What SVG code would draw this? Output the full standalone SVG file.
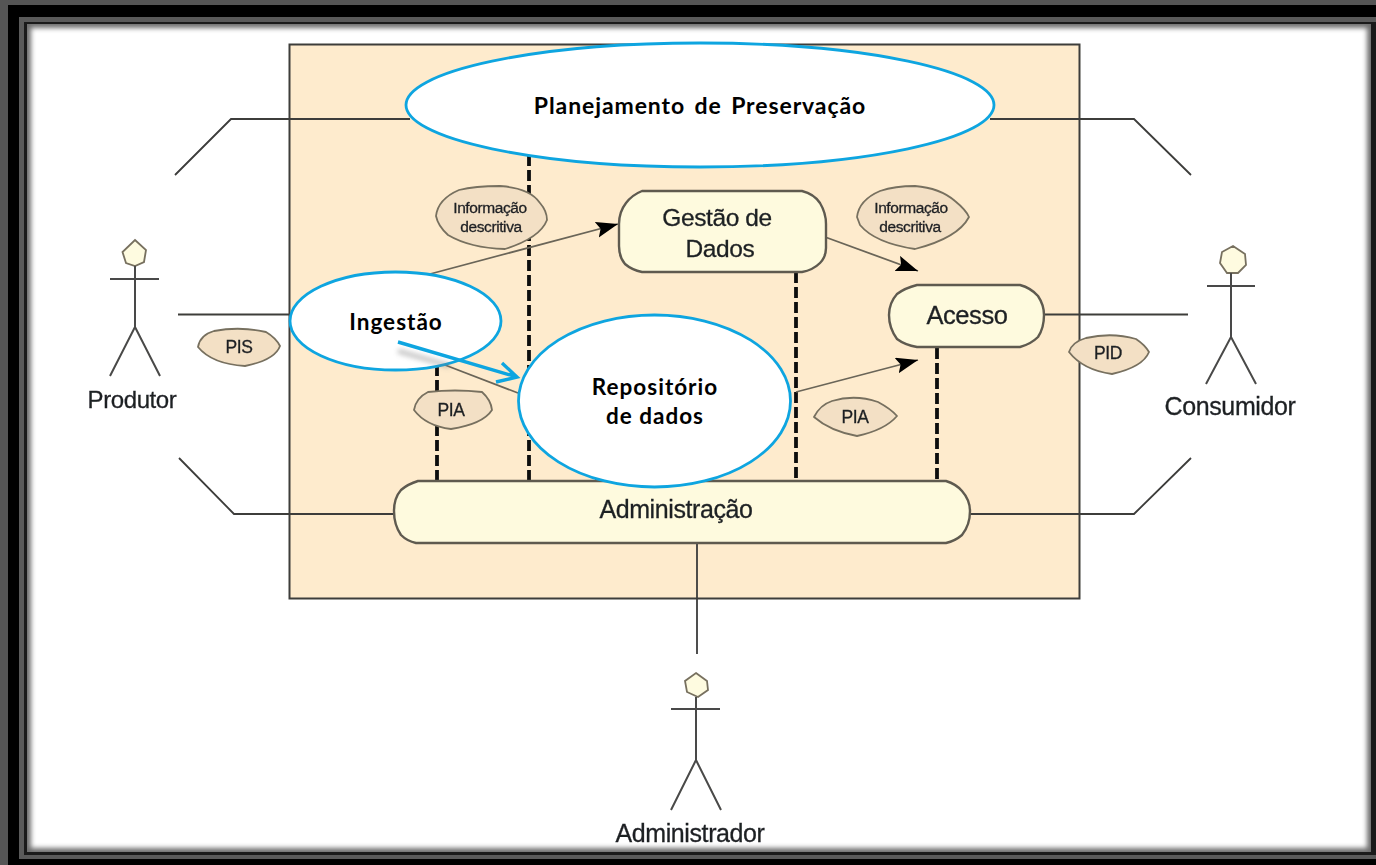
<svg xmlns="http://www.w3.org/2000/svg" width="1376" height="865" viewBox="0 0 1376 865">
<style>
.r{filter:url(#blur)}
.ln{fill:none;stroke:#3c3c3a;stroke-width:1.8}
.ac{fill:none;stroke:#4a4a48;stroke-width:2}
.thin{fill:none;stroke:#6a6558;stroke-width:1.8}
.dash{fill:none;stroke:#111;stroke-width:3.800;stroke-dasharray:11 4}
.box{fill:#fefade;stroke:#5e5a50;stroke-width:2.400;stroke-linejoin:round}
.tag{fill:#f3e0c5;stroke:#77705f;stroke-width:1.800;stroke-linejoin:round}
.head{fill:#fefbe0;stroke:#77705f;stroke-width:1.800}
.blue{fill:#fff;stroke:#0ea5e0;stroke-width:2.800}
.t{font-family:"Liberation Sans",Arial,sans-serif;fill:#1e2024;stroke:#1e2024;stroke-width:.3;text-anchor:middle}
.s{letter-spacing:-.4px}
.b{font-family:Lato,"Open Sans",sans-serif;font-weight:700;fill:#000;text-anchor:middle;letter-spacing:1px;font-size:22.500px}
</style>
<defs>
<filter id="inner" x="-5%" y="-5%" width="110%" height="110%"><feGaussianBlur stdDeviation="2.800"/></filter>
<filter id="soft" filterUnits="userSpaceOnUse" x="370" y="330" width="170" height="70"><feGaussianBlur stdDeviation="2.500"/></filter>
<filter id="blur" filterUnits="userSpaceOnUse" x="0" y="0" width="1376" height="865"><feGaussianBlur stdDeviation=".55"/></filter>
<marker id="tri" markerWidth="24" markerHeight="18" refX="22" refY="8" orient="auto" markerUnits="userSpaceOnUse"><path d="M0 0L22 8L0 16L4 8Z" fill="#000"/></marker>
<clipPath id="inside"><rect x="27" y="24" width="1344" height="828"/></clipPath>
</defs>
<g id="frame">
<rect width="1376" height="865" fill="#000"/>
<rect width="1376" height="5" fill="#555"/>
<rect width="8" height="865" fill="#555"/>
<rect x="19" y="17" width="1357" height="842" fill="#5a5a5a"/>
<rect x="24" y="22" width="1352" height="833" fill="#1a1a1a"/>
<g clip-path="url(#inside)"><rect x="27" y="24" width="1344" height="828" fill="#6e6e6e"/><rect x="31" y="28" width="1336" height="820" fill="#fff" filter="url(#inner)"/></g>
</g>
<rect id="system" class="r" x="289.500" y="44.500" width="790" height="554" fill="#feebcd" stroke="#3c3c3a" stroke-width="2"/>
<g id="connectors" class="r">
<path class="ln" d="M175 175L231 119H410M990 119H1134L1191 175"/>
<path class="ln" d="M178 314.500H290M1044 314.500H1188"/>
<path class="ln" d="M179 458L234 514H394M970 514H1134L1191 458"/>
<path class="ln" d="M697 543V654"/>
<path class="dash" d="M529 155V482"/>
<path class="dash" d="M437 365V482"/>
<path class="dash" d="M796 272V482"/>
<path class="dash" d="M937 348V482"/>
<path class="dash" d="M597 470V482"/>
<path class="thin" d="M430 274L618 224" marker-end="url(#tri)"/>
<path class="thin" d="M825 237L918 271" marker-end="url(#tri)"/>
<path class="thin" d="M796 392L918 360" marker-end="url(#tri)"/>
<path class="thin" d="M445 365L518 393" stroke-width="2.200"/>
</g>
<g id="planejamento"><ellipse class="blue" cx="700" cy="105" rx="294" ry="62"/><text class="b" x="700" y="114" style="font-size:23px;letter-spacing:.9px" word-spacing="3">Planejamento de Preservação</text></g>
<g id="gestao" class="r"><path class="box" d="M642 191H802Q814 194 820 203Q826 213 826 224V248Q826 257 820 263Q813 270 802 272H642Q632 270 625 264Q619 257 619 246V224Q619 212 626 203Q632 195 642 191Z"/><text class="t s" x="717" y="226" font-size="24.500">Gestão de</text><text class="t s" x="720" y="257" font-size="24.500">Dados</text></g>
<g id="acesso" class="r"><path class="box" d="M917 285H1020Q1031 288 1038 296Q1044 305 1044 315Q1044 328 1038 337Q1031 344 1020 347H917Q905 345 897 339Q889 328 889 315Q889 303 897 294Q905 288 917 285Z"/><text class="t s" x="967" y="324" font-size="25.500">Acesso</text></g>
<g id="administracao" class="r"><path class="box" d="M418 481H946Q956 484 962 491Q970 500 970 511Q970 525 962 535Q955 541 946 543H416Q407 541 401 535Q394 525 394 511Q394 498 401 490Q408 484 418 481Z"/><text class="t s" x="676" y="518" font-size="25">Administração</text></g>
<g id="tag-info1" class="r"><path class="tag" d="M436 216Q438 199 459 190Q475 186 500 186Q530 188 540 203Q547 211 547 220Q540 238 505 249Q470 248 448 235Q438 226 436 216Z"/><text class="t s" x="490" y="213" font-size="15.500">Informação</text><text class="t s" x="491" y="232" font-size="15.500">descritiva</text></g>
<g id="tag-info2" class="r"><path class="tag" d="M857 217Q859 200 880 191Q895 186 915 186Q940 188 955 201Q966 210 969 217Q958 238 915 249Q875 243 860 225Z"/><text class="t s" x="911" y="213" font-size="15.500">Informação</text><text class="t s" x="910" y="232" font-size="15.500">descritiva</text></g>
<g id="tag-pis" class="r"><path class="tag" d="M198 347Q200 335 214 331Q240 326 266 332Q276 338 280 346Q275 360 245 366Q212 364 198 347Z"/><text class="t s" x="239" y="353" font-size="17.500">PIS</text></g>
<g id="tag-pid" class="r"><path class="tag" d="M1069 352Q1072 342 1086 338Q1112 332 1136 339Q1145 345 1149 352Q1143 367 1112 374Q1083 370 1069 352Z"/><text class="t s" x="1108" y="359" font-size="17.500">PID</text></g>
<g id="tag-pia1" class="r"><path class="tag" d="M414 410Q416 398 428 392Q455 389 482 392Q491 400 492 410Q483 424 451 429Q426 426 414 410Z"/><text class="t s" x="451" y="416" font-size="17.500">PIA</text></g>
<g id="tag-pia2" class="r"><path class="tag" d="M814 417Q820 405 832 401Q855 394 878 402Q891 409 897 416Q885 430 857 436Q830 431 814 417Z"/><text class="t s" x="855" y="423" font-size="17.500">PIA</text></g>
<g id="actor-produtor" class="r"><path class="head" d="M135 240L146 250L144 262L135 266L126 263L122.500 252Z"/><path class="ac" d="M135 266V327L110 376M135 327L160 376M110 279H159"/><text class="t s" x="132" y="408" font-size="24">Produtor</text></g>
<g id="actor-consumidor" class="r"><path class="head" d="M1233 246L1245 254L1246 265L1238 273H1227L1220 263L1222 252Z"/><path class="ac" d="M1231 273V337L1206 384M1231 337L1256 384M1207 286H1255"/><text class="t s" x="1230" y="415" font-size="25">Consumidor</text></g>
<g id="actor-administrador" class="r"><path class="head" d="M696 673L707 681L708 690L698 697L687 692L685 681Z"/><path class="ac" d="M696 697V760L671 810M696 760L721 810M671 709H720"/><text class="t s" x="690" y="842" font-size="25">Administrador</text></g>
<g id="ingestao"><ellipse class="blue" cx="395.500" cy="321" rx="105.500" ry="49"/><text class="b" x="396" y="330">Ingestão</text></g>
<g id="repositorio"><ellipse class="blue" cx="654.500" cy="401" rx="136" ry="86"/><text class="b" x="655" y="395">Repositório</text><text class="b" x="655" y="424">de dados</text></g>
<g id="blue-arrow">
<path d="M398 351L450 366" stroke="#777" stroke-width="5" fill="none" opacity=".4" filter="url(#soft)"/>
<path d="M398 342L517 377M502 363L517 377L496 382" fill="none" stroke="#0ea5e0" stroke-width="3.400"/>
</g>
</svg>
